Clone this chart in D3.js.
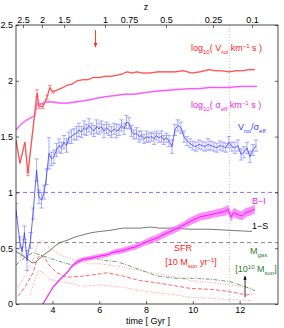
<!DOCTYPE html>
<html>
<head>
<meta charset="utf-8">
<script src="https://cdn.jsdelivr.net/npm/d3@7"></script>
<style>
  body { margin: 0; background: #fff; }
  svg { font-family: "Liberation Sans", Arial, sans-serif; font-size: 9px; }
  .axis path { display: none; }
  .axis line { stroke: #000; stroke-width: 0.6; }
  .axis text { fill: #000; font-size: 9px; }
</style>
</head>
<body>
<div id="chart"></div>
<script>
// ---- data (time in Gyr) ----
const zLabels = ['2.5', '2', '1.5', '1', '0.75', '0.5', '0.25', '0.1'];
const zTimes = [2.74, 3.55, 4.49, 6.24, 7.27, 8.85, 10.86, 12.53];
const timeTicks = [4, 6, 8, 10, 12];
const yTicks = [0, 0.5, 1, 1.5, 2, 2.5];

// log10(Vrot)
const vrotT = [2.44, 2.61, 2.82, 2.95, 3.34, 3.42, 3.59, 3.76, 3.89, 4.02, 4.23, 4.45, 4.62, 4.83, 5.05, 5.30, 5.52, 5.73, 6.03, 6.24, 6.46, 6.76, 6.97, 7.18, 7.40, 7.61, 7.82, 8.17, 8.51, 8.85, 9.23, 9.58, 9.96, 10.30, 10.69, 10.94, 11.24, 11.54, 11.85, 12.14, 12.40, 12.65];
const vrotV = [1.47, 1.26, 1.45, 1.17, 1.89, 1.77, 1.77, 1.85, 1.94, 1.90, 1.92, 1.94, 1.96, 1.97, 2.00, 2.01, 2.01, 2.03, 2.03, 2.04, 2.04, 2.05, 2.06, 2.08, 2.07, 2.08, 2.07, 2.07, 2.08, 2.08, 2.08, 2.09, 2.07, 2.08, 2.10, 2.09, 2.09, 2.08, 2.09, 2.09, 2.10, 2.10];
const vrotE = [0, 0, 0, 0.02, 0.03, 0.02, 0.02, 0.02, 0.02, 0.01, 0, 0, 0, 0, 0, 0, 0, 0, 0, 0, 0, 0, 0, 0, 0, 0, 0, 0, 0, 0, 0, 0, 0, 0, 0, 0, 0, 0, 0, 0, 0, 0];

// log10(sigma_eff)
const sigT = [2.44, 2.65, 2.91, 3.17, 3.25, 3.34, 3.47, 3.59, 3.76, 4.02, 4.32, 4.62, 4.96, 5.30, 5.60, 6.03, 6.37, 6.76, 7.10, 7.53, 7.82, 8.17, 8.59, 9.23, 9.88, 10.30, 10.69, 11.16, 11.54, 12.02, 12.44, 12.74];
const sigV = [1.56, 1.61, 1.65, 1.68, 1.69, 1.80, 1.79, 1.80, 1.81, 1.81, 1.80, 1.80, 1.81, 1.82, 1.83, 1.85, 1.86, 1.87, 1.88, 1.88, 1.89, 1.90, 1.91, 1.92, 1.93, 1.93, 1.94, 1.94, 1.94, 1.95, 1.95, 1.95];

// Vrot / sigma_eff with errors
const ratioT = [2.44, 2.61, 2.70, 2.80, 2.91, 3.06, 3.17, 3.32, 3.42, 3.53, 3.64, 3.74, 3.85, 3.96, 4.06, 4.17, 4.28, 4.38, 4.49, 4.60, 4.70, 4.81, 4.92, 5.03, 5.13, 5.24, 5.35, 5.45, 5.56, 5.67, 5.77, 5.88, 5.99, 6.09, 6.20, 6.31, 6.41, 6.52, 6.63, 6.73, 6.84, 6.95, 7.06, 7.16, 7.27, 7.38, 7.48, 7.59, 7.70, 7.80, 7.91, 8.02, 8.12, 8.23, 8.34, 8.44, 8.55, 8.66, 8.76, 8.87, 8.98, 9.11, 9.23, 9.36, 9.49, 9.62, 9.75, 9.88, 10.00, 10.13, 10.26, 10.39, 10.52, 10.65, 10.77, 10.90, 11.03, 11.16, 11.29, 11.41, 11.54, 11.67, 11.80, 11.93, 12.06, 12.18, 12.31, 12.44, 12.57, 12.70];
const ratioV = [0.84, 0.55, 0.47, 0.64, 0.39, 0.57, 0.81, 1.20, 0.96, 0.93, 1.00, 1.14, 1.35, 1.30, 1.32, 1.38, 1.42, 1.40, 1.45, 1.42, 1.49, 1.50, 1.52, 1.53, 1.56, 1.54, 1.58, 1.56, 1.60, 1.57, 1.55, 1.59, 1.57, 1.59, 1.55, 1.58, 1.56, 1.54, 1.57, 1.55, 1.56, 1.60, 1.57, 1.63, 1.62, 1.55, 1.52, 1.53, 1.50, 1.51, 1.48, 1.50, 1.49, 1.50, 1.48, 1.51, 1.49, 1.50, 1.47, 1.49, 1.46, 1.41, 1.56, 1.60, 1.58, 1.50, 1.46, 1.44, 1.42, 1.41, 1.43, 1.42, 1.41, 1.43, 1.42, 1.41, 1.40, 1.42, 1.41, 1.40, 1.45, 1.41, 1.40, 1.42, 1.34, 1.36, 1.40, 1.32, 1.38, 1.42];
const ratioE = [0.06, 0.05, 0.04, 0.06, 0.09, 0.07, 0.05, 0.10, 0.06, 0.07, 0.06, 0.07, 0.14, 0.06, 0.06, 0.06, 0.06, 0.05, 0.06, 0.06, 0.05, 0.06, 0.05, 0.06, 0.06, 0.05, 0.06, 0.05, 0.06, 0.05, 0.05, 0.06, 0.05, 0.05, 0.06, 0.05, 0.05, 0.05, 0.05, 0.06, 0.05, 0.05, 0.05, 0.06, 0.05, 0.05, 0.04, 0.05, 0.05, 0.04, 0.04, 0.05, 0.04, 0.04, 0.05, 0.04, 0.04, 0.05, 0.04, 0.04, 0.05, 0.06, 0.05, 0.05, 0.05, 0.05, 0.04, 0.04, 0.04, 0.04, 0.04, 0.04, 0.04, 0.05, 0.04, 0.04, 0.04, 0.04, 0.04, 0.04, 0.05, 0.04, 0.05, 0.05, 0.05, 0.05, 0.05, 0.05, 0.05, 0.05];

// B-I colour with band
const biT = [3.59, 4.02, 4.32, 4.62, 4.83, 5.09, 5.30, 5.60, 5.82, 6.03, 6.33, 6.54, 6.76, 7.01, 7.31, 7.53, 7.74, 7.95, 8.17, 8.47, 8.72, 8.94, 9.15, 9.36, 9.62, 9.88, 10.09, 10.30, 10.52, 10.73, 10.94, 11.16, 11.37, 11.50, 11.63, 11.75, 11.93, 12.10, 12.27, 12.44, 12.65];
const biV = [0.00, 0.15, 0.22, 0.28, 0.34, 0.38, 0.40, 0.41, 0.42, 0.43, 0.44, 0.46, 0.47, 0.48, 0.50, 0.51, 0.53, 0.55, 0.57, 0.59, 0.62, 0.64, 0.66, 0.68, 0.71, 0.74, 0.76, 0.78, 0.79, 0.80, 0.81, 0.82, 0.83, 0.85, 0.78, 0.82, 0.80, 0.79, 0.82, 0.83, 0.85];
const biE = [0.012, 0.012, 0.012, 0.012, 0.015, 0.02, 0.02, 0.02, 0.02, 0.02, 0.02, 0.02, 0.025, 0.025, 0.025, 0.025, 0.025, 0.025, 0.03, 0.03, 0.03, 0.03, 0.03, 0.03, 0.03, 0.035, 0.035, 0.035, 0.035, 0.035, 0.035, 0.035, 0.04, 0.04, 0.04, 0.04, 0.04, 0.04, 0.04, 0.04, 0.04];

// 1-S
const sT = [2.44, 2.61, 2.82, 3.00, 3.12, 3.25, 3.47, 3.68, 3.89, 4.11, 4.32, 4.62, 4.96, 5.30, 5.69, 6.03, 6.46, 7.01, 7.74, 8.17, 8.59, 9.23, 9.88, 10.73, 11.58, 12.53];
const sV = [0.47, 0.45, 0.42, 0.39, 0.37, 0.37, 0.41, 0.45, 0.48, 0.52, 0.55, 0.57, 0.60, 0.62, 0.64, 0.65, 0.66, 0.68, 0.68, 0.69, 0.68, 0.68, 0.67, 0.67, 0.66, 0.65];

// SFR and its range
const sfrT = [2.53, 2.82, 3.17, 3.34, 3.47, 3.64, 3.89, 4.19, 4.62, 5.30, 6.03, 6.33, 7.01, 7.74, 8.47, 9.32, 9.88, 10.86, 11.58, 12.31, 12.53];
const sfrV = [0.07, 0.15, 0.28, 0.40, 0.44, 0.42, 0.34, 0.28, 0.24, 0.25, 0.27, 0.28, 0.25, 0.21, 0.19, 0.16, 0.14, 0.13, 0.11, 0.08, 0.09];
const sfrHiT = [2.53, 2.82, 3.17, 3.38, 3.55, 3.89, 4.32, 4.83, 5.60, 6.03, 7.01, 7.74, 8.47, 9.32, 9.88, 10.86, 11.58, 12.53];
const sfrHiV = [0.15, 0.25, 0.40, 0.55, 0.57, 0.50, 0.44, 0.40, 0.36, 0.36, 0.33, 0.30, 0.27, 0.24, 0.21, 0.19, 0.17, 0.14];
const sfrLoT = [3.04, 3.25, 3.42, 3.64, 3.89, 4.62, 5.30, 6.03, 7.01, 7.74, 8.47, 9.32, 9.88, 10.86, 11.58, 12.53];
const sfrLoV = [0.08, 0.22, 0.30, 0.27, 0.22, 0.19, 0.16, 0.17, 0.15, 0.12, 0.10, 0.08, 0.06, 0.05, 0.04, 0.03];

// gas mass
const gasT = [2.44, 2.82, 3.17, 3.47, 3.89, 4.32, 4.83, 5.30, 5.82, 6.24, 6.76, 7.31, 7.82, 8.47, 9.32, 10.09, 10.86, 11.58, 12.31, 12.65];
const gasV = [0.35, 0.42, 0.46, 0.44, 0.41, 0.38, 0.35, 0.40, 0.41, 0.39, 0.38, 0.34, 0.30, 0.25, 0.23, 0.23, 0.22, 0.20, 0.15, 0.12];

const tMark = 11.56;   // dotted vertical line
const tArrow = 5.84;   // red arrow
const gasArrow = { t: 12.23, from: 0.06, to: 0.25 };

// ---- layout ----
const W = 284, H = 328;
const pL = 16, pR = 278, pT = 25, pB = 304;

const x = d3.scaleLinear().domain([2.44, 13.64]).range([pL, pR]);
const y = d3.scaleLinear().domain([0, 2.5]).range([pB, pT]);

const svg = d3.select('#chart').append('svg')
    .attr('width', W)
    .attr('height', H);

svg.append('clipPath').attr('id', 'clip')
    .append('rect').attr('x', pL).attr('y', pT)
    .attr('width', pR - pL).attr('height', pB - pT);

const plot = svg.append('g').attr('clip-path', 'url(#clip)');

function pts(ts, vs) { return ts.map((t, i) => [t, vs[i]]); }

const line = d3.line().x(d => x(d[0])).y(d => y(d[1]));

// reference lines
plot.append('line')
    .attr('x1', pL).attr('x2', pR).attr('y1', y(1)).attr('y2', y(1))
    .attr('stroke', '#7a5cff').attr('stroke-width', 0.9).attr('stroke-dasharray', '4,3');
plot.append('line')
    .attr('x1', pL).attr('x2', pR).attr('y1', y(0.55)).attr('y2', y(0.55))
    .attr('stroke', '#666').attr('stroke-width', 0.8).attr('stroke-dasharray', '4,3');
plot.append('line')
    .attr('x1', x(tMark)).attr('x2', x(tMark)).attr('y1', pT).attr('y2', pB)
    .attr('stroke', '#aaa').attr('stroke-width', 0.7).attr('stroke-dasharray', '1,2');

// SFR range (dotted) and SFR (dashed)
plot.append('path').datum(pts(sfrHiT, sfrHiV)).attr('d', line)
    .attr('fill', 'none').attr('stroke', '#ff7070').attr('stroke-width', 0.7).attr('stroke-dasharray', '1,1.5');
plot.append('path').datum(pts(sfrLoT, sfrLoV)).attr('d', line)
    .attr('fill', 'none').attr('stroke', '#ff7070').attr('stroke-width', 0.7).attr('stroke-dasharray', '1,1.5');
plot.append('path').datum(pts(sfrT, sfrV)).attr('d', line)
    .attr('fill', 'none').attr('stroke', '#ff4040').attr('stroke-width', 0.8).attr('stroke-dasharray', '4,2');

// gas mass (dash-dot)
plot.append('path').datum(pts(gasT, gasV)).attr('d', line)
    .attr('fill', 'none').attr('stroke', '#4a8a4a').attr('stroke-width', 0.8).attr('stroke-dasharray', '4,1.5,1,1.5');

// 1-S
plot.append('path').datum(pts(sT, sV)).attr('d', line)
    .attr('fill', 'none').attr('stroke', '#555').attr('stroke-width', 0.8);

// B-I band + line
const biData = biT.map((t, i) => ({ t: t, v: biV[i], e: biE[i] }));
plot.append('path').datum(biData)
    .attr('d', d3.area().x(d => x(d.t)).y0(d => y(d.v - d.e)).y1(d => y(d.v + d.e)))
    .attr('fill', '#ff66ff').attr('opacity', 0.75);
plot.append('path').datum(biData)
    .attr('d', d3.line().x(d => x(d.t)).y(d => y(d.v)))
    .attr('fill', 'none').attr('stroke', '#ee22ee').attr('stroke-width', 1);

// error bar helper
function errorBars(ts, vs, es, color, cap) {
    const g = plot.append('g').attr('stroke', color).attr('stroke-width', 0.7);
    ts.forEach((t, i) => {
        if (!es[i]) return;
        const cx = x(t), y0 = y(vs[i] - es[i]), y1 = y(vs[i] + es[i]);
        g.append('line').attr('x1', cx).attr('x2', cx).attr('y1', y0).attr('y2', y1);
        g.append('line').attr('x1', cx - cap).attr('x2', cx + cap).attr('y1', y0).attr('y2', y0);
        g.append('line').attr('x1', cx - cap).attr('x2', cx + cap).attr('y1', y1).attr('y2', y1);
    });
}

// Vrot/sigma
errorBars(ratioT, ratioV, ratioE, '#8888ff', 2.2);
plot.append('path').datum(pts(ratioT, ratioV)).attr('d', line)
    .attr('fill', 'none').attr('stroke', '#4040ff').attr('stroke-width', 0.8);

// log sigma
plot.append('path').datum(pts(sigT, sigV)).attr('d', line)
    .attr('fill', 'none').attr('stroke', '#ffaaff').attr('stroke-width', 1.8);
plot.append('path').datum(pts(sigT, sigV)).attr('d', line)
    .attr('fill', 'none').attr('stroke', '#ff33ff').attr('stroke-width', 0.8);

// log Vrot
errorBars(vrotT, vrotV, vrotE, '#ff6060', 2);
plot.append('path').datum(pts(vrotT, vrotV)).attr('d', line)
    .attr('fill', 'none').attr('stroke', '#ffb0b0').attr('stroke-width', 1.6);
plot.append('path').datum(pts(vrotT, vrotV)).attr('d', line)
    .attr('fill', 'none').attr('stroke', '#ff3030').attr('stroke-width', 0.8);

// arrows
svg.append('defs').html(
    '<marker id="ah-red" viewBox="0 0 10 10" refX="9" refY="5" markerWidth="5" markerHeight="6" orient="auto"><path d="M0,1 L10,5 L0,9 z" fill="#ff2020"/></marker>' +
    '<marker id="ah-blk" viewBox="0 0 10 10" refX="9" refY="5" markerWidth="5" markerHeight="6" orient="auto"><path d="M0,1 L10,5 L0,9 z" fill="#000"/></marker>');
svg.append('line')
    .attr('x1', x(tArrow)).attr('x2', x(tArrow)).attr('y1', 30).attr('y2', 47)
    .attr('stroke', '#ff2020').attr('stroke-width', 0.9).attr('marker-end', 'url(#ah-red)');
svg.append('line')
    .attr('x1', x(gasArrow.t)).attr('x2', x(gasArrow.t))
    .attr('y1', y(gasArrow.from)).attr('y2', y(gasArrow.to))
    .attr('stroke', '#000').attr('stroke-width', 0.8).attr('marker-end', 'url(#ah-blk)');

// frame
svg.append('rect')
    .attr('x', pL).attr('y', pT).attr('width', pR - pL).attr('height', pB - pT)
    .attr('fill', 'none').attr('stroke', '#000').attr('stroke-width', 0.7);

// axes
svg.append('g').attr('class', 'axis')
    .attr('transform', `translate(${pL},0)`)
    .call(d3.axisLeft(y).tickValues(yTicks).tickSizeInner(-3).tickSizeOuter(0).tickPadding(3).tickFormat(d3.format('')));
svg.append('g').attr('class', 'axis')
    .attr('transform', `translate(${pR},0)`)
    .call(d3.axisRight(y).tickValues(yTicks).tickSizeInner(-3).tickSizeOuter(0).tickFormat(''));
svg.append('g').attr('class', 'axis')
    .attr('transform', `translate(0,${pB})`)
    .call(d3.axisBottom(x).tickValues(timeTicks).tickSizeInner(-3).tickSizeOuter(0).tickPadding(3).tickFormat(d3.format('')));
svg.append('g').attr('class', 'axis')
    .attr('transform', `translate(0,${pT})`)
    .call(d3.axisTop(x).tickValues(zTimes).tickSizeInner(-3).tickSizeOuter(0).tickPadding(2).tickFormat((d, i) => zLabels[i]));

// axis titles
svg.append('text').attr('x', 146).attr('y', 10).attr('text-anchor', 'middle')
    .attr('font-size', 9).text('z');
svg.append('text').attr('x', 148).attr('y', 324).attr('text-anchor', 'middle')
    .attr('font-size', 9).text('time [ Gyr ]');

// labels with sub/superscripts
function label(xp, yp, color, parts, anchor) {
    const t = svg.append('text').attr('x', xp).attr('y', yp)
        .attr('fill', color).attr('font-size', 9).attr('text-anchor', anchor || 'start');
    let shift = 0;
    parts.forEach(p => {
        const target = p[1] === 'sub' ? 2.5 : p[1] === 'sup' ? -3.5 : 0;
        t.append('tspan').attr('dy', target - shift)
            .attr('font-size', p[1] ? 6 : 9).text(p[0]);
        shift = target;
    });
    return t;
}

label(191, 51, '#ff2020', [['log'], ['10', 'sub'], ['( V'], ['rot', 'sub'], [' km'], ['\u22121', 'sup'], [' s )']]);
label(191, 108, '#ee22ee', [['log'], ['10', 'sub'], ['( \u03c3'], ['eff', 'sub'], [' km'], ['\u22121', 'sup'], [' s )']]);
label(238, 130, '#3a3aff', [['V'], ['rot', 'sub'], ['/\u03c3'], ['eff', 'sub']]);
label(252, 204, '#ee22ee', [['B\u2212I']]);
label(252, 229, '#000', [['1\u2212S']]);
label(183, 251, '#ff2020', [['SFR']], 'middle');
label(191, 265, '#ff2020', [['[10 M'], ['sun', 'sub'], [' yr'], ['\u22121', 'sup'], [']']], 'middle');
label(250, 254, '#2e7d2e', [['M'], ['gas', 'sub']]);
label(256, 272, '#2e7d2e', [['[10'], ['10', 'sup'], [' M'], ['sun', 'sub'], [']']], 'middle');
</script>
</body>
</html>
